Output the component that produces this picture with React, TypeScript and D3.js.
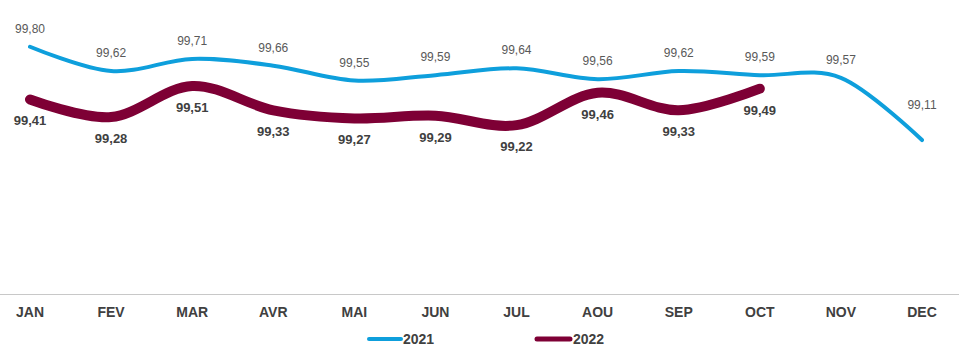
import React from "react";
import * as d3 from "d3";

const months = ["JAN", "FEV", "MAR", "AVR", "MAI", "JUN", "JUL", "AOU", "SEP", "OCT", "NOV", "DEC"];
const values2021 = [99.8, 99.62, 99.71, 99.66, 99.55, 99.59, 99.64, 99.56, 99.62, 99.59, 99.57, 99.11];
const values2022 = [99.41, 99.28, 99.51, 99.33, 99.27, 99.29, 99.22, 99.46, 99.33, 99.49];
const seriesNames = ["2021", "2022"];

const width = 959;
const height = 353;
const blue = "#0E9FDC";
const maroon = "#7E0035";
const font = "'Liberation Sans', Arial, sans-serif";

const fmt = (v: number) => v.toFixed(2).replace(".", ",");

export default function App() {
  const x = d3.scalePoint<string>().domain(months).range([30, 922]);
  const y = d3.scaleLinear().domain([98, 100]).range([290.1, 19.7]);

  const line = d3
    .line<number>()
    .x((d, i) => x(months[i]) as number)
    .y(d => y(d))
    .curve(d3.curveCatmullRom.alpha(0));

  return (
    <svg
      width={width}
      height={height}
      style={{ position: "absolute", left: 0, top: 0, fontFamily: font }}
    >
      <rect width={width} height={height} fill="#fff" />
      {/* axis line */}
      <line x1={0} x2={width} y1={294.5} y2={294.5} stroke="#c8c8c8" strokeWidth={1} />
      {months.map(m => (
        <text
          key={m}
          x={x(m)}
          y={317}
          textAnchor="middle"
          fontSize={14}
          fontWeight="bold"
          fill="#404040"
        >
          {m}
        </text>
      ))}

      <path d={line(values2021) || ""} fill="none" stroke={blue} strokeWidth={4} strokeLinecap="round" />
      <path d={line(values2022) || ""} fill="none" stroke={maroon} strokeWidth={10} strokeLinecap="round" />

      {values2021.map((v, i) => (
        <text
          key={"a" + i}
          x={x(months[i])}
          y={y(v) - (i === 11 ? 31 : 14)}
          textAnchor="middle"
          fontSize={12}
          fill="#595959"
        >
          {fmt(v)}
        </text>
      ))}
      {values2022.map((v, i) => (
        <text
          key={"b" + i}
          x={x(months[i])}
          y={y(v) + 26}
          textAnchor="middle"
          fontSize={13}
          fontWeight="bold"
          fill="#404040"
        >
          {fmt(v)}
        </text>
      ))}

      {/* legend */}
      <line x1={369} x2={401} y1={339} y2={339} stroke={blue} strokeWidth={4} strokeLinecap="round" />
      <text x={403} y={344} fontSize={14} fontWeight="bold" fill="#404040">
        {seriesNames[0]}
      </text>
      <line x1={537} x2={570} y1={339} y2={339} stroke={maroon} strokeWidth={5} strokeLinecap="round" />
      <text x={573} y={344} fontSize={14} fontWeight="bold" fill="#404040">
        {seriesNames[1]}
      </text>
    </svg>
  );
}
